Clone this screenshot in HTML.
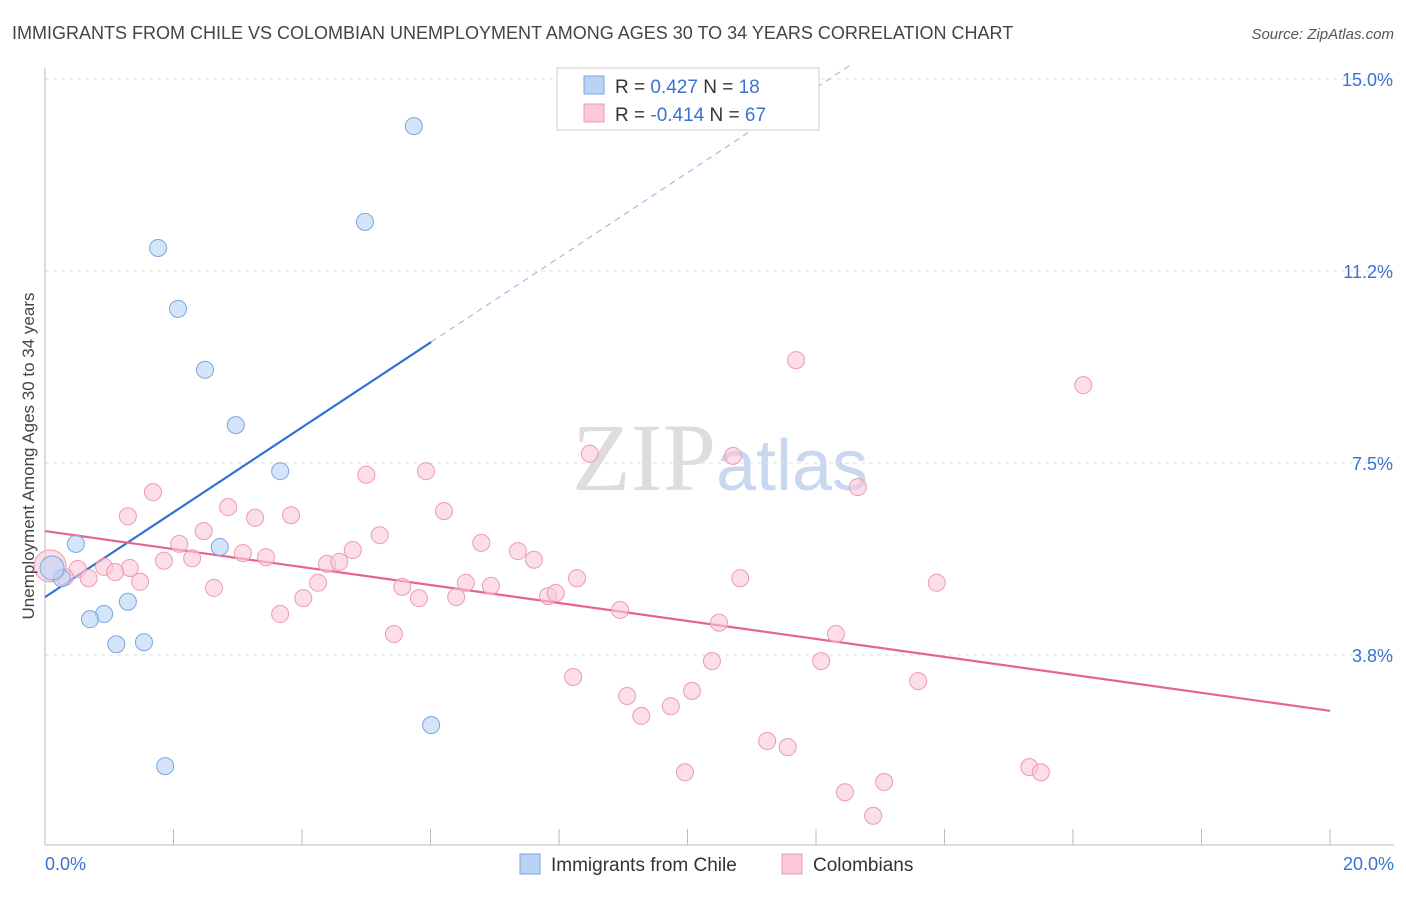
<!DOCTYPE html>
<html><head><meta charset="utf-8"><style>
body{margin:0;background:#fff;font-family:"Liberation Sans",sans-serif;}
svg text{font-family:"Liberation Sans",sans-serif;}
</style></head><body>
<svg id="chart" width="1406" height="892" viewBox="0 0 1406 892" xmlns="http://www.w3.org/2000/svg">
<text x="12" y="39" font-size="18" fill="#444">IMMIGRANTS FROM CHILE VS COLOMBIAN UNEMPLOYMENT AMONG AGES 30 TO 34 YEARS CORRELATION CHART</text>
<text x="1394" y="39" font-size="15" fill="#555" text-anchor="end" font-style="italic">Source: ZipAtlas.com</text>
<text x="720" y="490" font-size="96" text-anchor="middle"><tspan fill="#ddd" font-family="Liberation Serif">ZIP</tspan><tspan fill="#c8d8f0" font-size="72">atlas</tspan></text>
<g id="grid"></g>
<g id="axes"></g>
<g id="lines"></g>
<g id="points"></g>
<text transform="translate(34,456) rotate(-90)" font-size="17" fill="#444" text-anchor="middle">Unemployment Among Ages 30 to 34 years</text>
<g>
<rect x="557" y="68" width="262" height="62" fill="#fff" stroke="#ccc"/>
<rect x="584" y="76" width="20" height="18" fill="#b9d3f5" stroke="#7aa6e0"/>
<rect x="584" y="104" width="20" height="18" fill="#fac8d8" stroke="#ee9ab4"/>
<text x="615" y="93" font-size="19" fill="#333">R = <tspan fill="#3a72d0"> 0.427</tspan>   N = <tspan fill="#3a72d0"> 18</tspan></text>
<text x="615" y="121" font-size="19" fill="#333">R = <tspan fill="#3a72d0">-0.414</tspan>   N = <tspan fill="#3a72d0">67</tspan></text>
</g>
<g>
<rect x="520" y="854" width="20" height="20" fill="#b9d3f5" stroke="#7aa6e0"/>
<text x="551" y="871" font-size="19" fill="#333">Immigrants from Chile</text>
<rect x="782" y="854" width="20" height="20" fill="#fac8d8" stroke="#ee9ab4"/>
<text x="813" y="871" font-size="19" fill="#333">Colombians</text>
</g>
</svg>
<script>
const xTicks=[0,2,4,6,8,10,12,14,16,18,20];
const yTicks=[3.75,7.5,11.25,15];
const yTickLabels=["3.8%","7.5%","11.2%","15.0%"];
const xAxisLabels=["0.0%","20.0%"];
const chileX=[5.74,4.98,1.76,2.07,2.49,2.97,3.66,0.48,2.72,0.26,1.29,0.92,0.70,1.11,1.54,6.01,1.87,0.11];
const chileY=[14.08,12.21,11.70,10.51,9.32,8.24,7.34,5.92,5.86,5.25,4.79,4.55,4.45,3.96,4.00,2.38,1.58,5.45];
const colX=[11.69,16.16,8.48,10.71,5.93,5.00,12.65,1.68,2.85,6.21,1.29,3.83,3.27,2.47,5.21,6.79,2.09,4.79,7.36,3.08,7.61,3.44,2.29,1.85,4.39,4.58,1.32,0.92,1.09,0.51,0.68,0.31,1.48,8.28,10.82,13.88,6.55,6.94,4.25,5.56,2.63,7.83,7.95,5.82,6.40,4.02,8.95,3.66,10.49,5.43,12.31,10.38,12.08,8.22,13.59,9.06,10.07,9.74,9.28,11.24,11.56,9.96,15.32,15.50,12.45,13.06,12.89,0.08];
const colY=[9.51,9.02,7.68,7.64,7.34,7.27,7.03,6.93,6.64,6.56,6.46,6.48,6.43,6.17,6.09,5.94,5.92,5.80,5.78,5.74,5.61,5.66,5.64,5.59,5.53,5.57,5.45,5.47,5.37,5.43,5.25,5.27,5.18,5.25,5.25,5.16,5.16,5.10,5.16,5.08,5.06,4.90,4.96,4.86,4.88,4.86,4.63,4.55,4.38,4.16,4.16,3.63,3.63,3.32,3.24,2.95,3.05,2.75,2.56,2.07,1.95,1.46,1.56,1.46,1.07,1.27,0.61,5.49];
const chileTrend=[4.88,0.829];
const colTrend=[6.17,-0.1755];
const X0=45,X1=1330,Y0=847,PX=51.2;
const sx=v=>X0+(X1-X0)*v/20;
const sy=v=>Y0-v*PX;
const NS="http://www.w3.org/2000/svg";
function mk(tag,attrs,parent){const e=document.createElementNS(NS,tag);for(const k in attrs)e.setAttribute(k,attrs[k]);document.getElementById(parent).appendChild(e);return e;}
yTicks.forEach((t,i)=>{
 const g=mk('line',{x1:45,x2:1394,y1:sy(t),y2:sy(t),stroke:'#ddd','stroke-dasharray':'4,4'},'grid');
 
 
 const l=mk('text',{x:1393,y:sy(t)+7,'font-size':18,fill:'#3a72d0','text-anchor':'end'},'axes');
 l.textContent=yTickLabels[i];
 
 
});
const ax=mk('line',{x1:45,x2:45,y1:68,y2:845,stroke:'#bbb'},'axes');


const bx=mk('line',{x1:45,x2:1394,y1:845,y2:845,stroke:'#bbb'},'axes');


xTicks.forEach(t=>{
 const tk=mk('line',{x1:sx(t),x2:sx(t),y1:829,y2:845,stroke:'#bbb'},'axes');
 
 
});
[[0,'start',45],[20,'end',1394]].forEach((d,i)=>{
 const l=mk('text',{x:d[2],y:870,'font-size':18,fill:'#3a72d0','text-anchor':d[1]},'axes');
 l.textContent=xAxisLabels[i];
 
 
});
// trend lines
const cEnd=Math.max(...chileX);
const t1=mk('line',{x1:sx(0),y1:sy(chileTrend[0]),x2:sx(cEnd),y2:sy(chileTrend[0]+chileTrend[1]*cEnd),stroke:'#2f72d4','stroke-width':2.2},'lines');


const dEnd=(15.3-chileTrend[0])/chileTrend[1];
const t2=mk('line',{x1:sx(cEnd),y1:sy(chileTrend[0]+chileTrend[1]*cEnd),x2:sx(dEnd),y2:sy(15.3),stroke:'#8fb2e4','stroke-width':1,'stroke-dasharray':'6,5'},'lines');


const t3=mk('line',{x1:sx(0),y1:sy(colTrend[0]),x2:sx(20),y2:sy(colTrend[0]+colTrend[1]*20),stroke:'#e8648f','stroke-width':2.2},'lines');


colX.forEach((x,i)=>{
 const big=i===colX.length-1;
 const c=mk('circle',{cx:sx(x),cy:sy(colY[i]),r:big?16:8.5,fill:'#fac8d8','fill-opacity':0.6,stroke:'#ee9ab4','stroke-width':1},'points');
 
 
});
chileX.forEach((x,i)=>{
 const big=i===chileX.length-1;
 const c=mk('circle',{cx:sx(x),cy:sy(chileY[i]),r:big?12:8.5,fill:'#b9d3f5','fill-opacity':0.6,stroke:'#7aa6e0','stroke-width':1},'points');
 
 
});
</script>
</body></html>
